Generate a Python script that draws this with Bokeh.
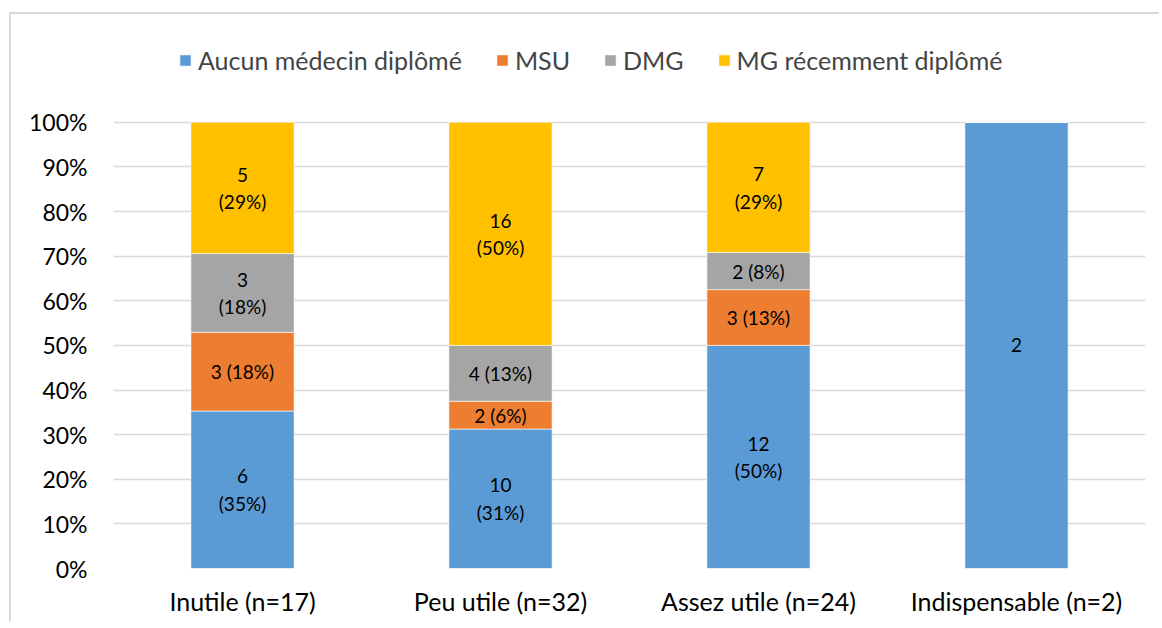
from bokeh.plotting import figure
from bokeh.models import (FactorRange, Range1d, NumeralTickFormatter, FixedTicker,
                          Legend, LegendItem, ColumnDataSource)
from bokeh.core.properties import value
from bokeh.embed import file_html
from bokeh.resources import INLINE

categories = ["Inutile (n=17)", "Peu utile (n=32)", "Assez utile (n=24)", "Indispensable (n=2)"]
series = ["Aucun médecin diplômé", "MSU", "DMG", "MG récemment diplômé"]
aucun = [6, 10, 12, 2]
msu = [3, 2, 3, 0]
dmg = [3, 4, 2, 0]
mg = [5, 16, 7, 0]
aucun_labels = ["6\n(35%)", "10\n(31%)", "12\n(50%)", "2"]
msu_labels = ["3 (18%)", "2 (6%)", "3 (13%)", ""]
dmg_labels = ["3\n(18%)", "4 (13%)", "2 (8%)", ""]
mg_labels = ["5\n(29%)", "16\n(50%)", "7\n(29%)", ""]
colors = ["#5B9BD5", "#ED7D31", "#A5A5A5", "#FFC000"]
y_ticks = [0, 0.1, 0.2, 0.3, 0.4, 0.5, 0.6, 0.7, 0.8, 0.9, 1.0]

counts = [aucun, msu, dmg, mg]
labels = [aucun_labels, msu_labels, dmg_labels, mg_labels]
totals = [sum(c[i] for c in counts) for i in range(len(categories))]
keys = ["s0", "s1", "s2", "s3"]
data = {"cat": categories}
for k, c in zip(keys, counts):
    data[k] = [v / t for v, t in zip(c, totals)]
src = ColumnDataSource(data)

# frame: 100% at 88px below frame top, 447px per unit
y_top = 1 + 88 / 447

p = figure(x_range=FactorRange(*categories), y_range=Range1d(0, y_top),
           width=1150, height=609, output_backend="svg", toolbar_location=None,
           min_border_left=102, min_border_right=16, min_border_top=20, min_border_bottom=55,
           margin=(12, 0, 0, 9),
           styles={"border-top": "2px solid #d9d9d9", "border-left": "2px solid #d9d9d9"})
p.outline_line_color = None
p.xgrid.grid_line_color = None
p.ygrid.grid_line_color = "#d9d9d9"
p.ygrid.grid_line_width = 1.3

rs = p.vbar_stack(keys, x="cat", width=0.4, color=colors, source=src,
                  line_color="white", line_width=0.6)

# labels
lx, ly, lt = [], [], []
for i, cat in enumerate(categories):
    bottom = 0.0
    for k, lab in zip(keys, labels):
        f = data[k][i]
        if lab[i]:
            lx.append(cat)
            ly.append(bottom + f / 2)
            lt.append(lab[i])
        bottom += f
p.text(x=lx, y=ly, text=lt, text_align="center", text_baseline="middle",
       text_font=value("Lato"), text_font_size="19px", text_color="#000000",
       text_line_height=1.2)

for ax in (p.xaxis[0], p.yaxis[0]):
    ax.axis_line_color = None
    ax.major_tick_line_color = None
    ax.minor_tick_line_color = None
    ax.major_label_text_font = "Lato"
    ax.major_label_text_color = "#000000"
p.xaxis[0].major_label_text_font_size = "25px"
p.yaxis[0].major_label_text_font_size = "23px"
p.yaxis[0].ticker = FixedTicker(ticks=y_ticks)
p.yaxis[0].formatter = NumeralTickFormatter(format="0%")
p.yaxis[0].major_label_standoff = 20
p.xaxis[0].major_label_standoff = 11

legend = Legend(items=[LegendItem(label=s, renderers=[r]) for s, r in zip(series, rs)],
                location=(65, 493), orientation="horizontal",
                label_text_font="Lato", label_text_font_size="25px",
                glyph_width=14, glyph_height=14, label_height=25,
                spacing=33, label_standoff=6, padding=5, margin=0,
                border_line_color=None, background_fill_alpha=0)
p.add_layout(legend)

open("out.html", "w").write(file_html(p, INLINE))
